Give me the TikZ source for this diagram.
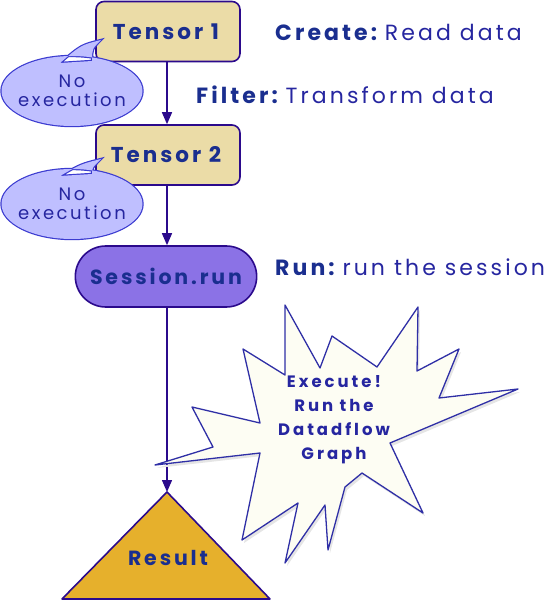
\documentclass[tikz,border=0pt]{standalone}
\usepackage{fontspec}
\setmainfont{Poppins}
\newfontfamily\boldsp[LetterSpace=14]{Poppins Bold}
\newfontfamily\boldburst[LetterSpace=18]{Poppins Bold}
\newfontfamily\regsp[LetterSpace=14]{Poppins}
\usetikzlibrary{arrows.meta,shapes.misc,shapes.geometric,calc}
\definecolor{edgec}{HTML}{2B0A8C}
\definecolor{txtc}{HTML}{1A2E8F}
\definecolor{bodyc}{HTML}{2626A0}
\definecolor{tanc}{HTML}{EBDCA7}
\definecolor{bubc}{HTML}{BFBFFF}
\definecolor{bubedge}{HTML}{3B3BD0}
\definecolor{sessc}{HTML}{8B72E6}
\definecolor{resc}{HTML}{E6B02C}
\definecolor{burstc}{HTML}{FDFDF3}
\tikzset{
  tensorbox/.style={draw=edgec, line width=1.6pt, fill=tanc, rounded corners=8pt,
    minimum width=144pt, minimum height=60pt, text=txtc, font=\boldsp\fontsize{21.5}{24}\selectfont},
  sessbox/.style={draw=edgec, line width=1.6pt, fill=sessc, rounded rectangle,
    minimum width=188pt, minimum height=61pt, text=txtc, font=\boldsp\fontsize{20.5}{24}\selectfont},
  bubtext/.style={ellipse, minimum width=141pt, minimum height=70pt, inner sep=0pt,
    align=center, text=bodyc, font=\regsp\fontsize{18}{22}\selectfont},
  sidelabel/.style={anchor=west, inner sep=0pt, font=\fontsize{22}{24}\selectfont},
  flow/.style={draw=edgec, line width=1.4pt, -{Triangle[length=12pt,width=10pt]}},
}
\begin{document}
\begin{tikzpicture}[x=1pt,y=-1pt]
\useasboundingbox (0,0) rectangle (553,601);
% tensor boxes and session
\node[tensorbox] (t1) at (168,31.5) {\hspace*{-4pt}Tensor 1};
\node[tensorbox] (t2) at (168,155) {\hspace*{-4pt}Tensor 2};
\node[sessbox] (sess) at (166,276.5) {Session.run};
% bubbles
\coordinate (b1) at (72,91);
\coordinate (b2) at (72,204);
\coordinate (tip1) at (101,40);
\coordinate (tip2) at (101,159);
\foreach \b/\t in {b1/tip1,b2/tip2}{
  \draw[bubedge, line width=2.4pt]
    (\b) ellipse [x radius=70.5pt, y radius=35pt]
    ($(\b)+(-12,-28)$) .. controls ($(\t)+(-20,5)$) .. (\t) .. controls ($(\t)+(-9,9)$) .. ($(\b)+(20,-30)$) -- cycle;
  \fill[bubc]
    (\b) ellipse [x radius=70.5pt, y radius=35pt]
    ($(\b)+(-12,-28)$) .. controls ($(\t)+(-20,5)$) .. (\t) .. controls ($(\t)+(-9,9)$) .. ($(\b)+(20,-30)$) -- cycle;
}
\node[bubtext] (n1) at (b1) {No\\[-3pt]execution};
\node[bubtext] (n2) at (b2) {No\\[-3pt]execution};
% result triangle
\coordinate (rtop) at (167,492);
\draw[edgec, line width=1.6pt, fill=resc, line join=round] (rtop) -- (270,599) -- (62,599) -- cycle;
\node[text=txtc, font=\boldsp\fontsize{20.5}{24}\selectfont] (res) at (168,558) {Result};
% connectors
\draw[flow] (t1.south -| rtop) -- (t2.north -| rtop);
\draw[flow] (t2.south -| rtop) -- (sess.north -| rtop);
\draw[flow] (sess.south -| rtop) -- (rtop);
% starburst
\fill[black!10, xshift=2pt, yshift=-3pt]
 (285,305) -- (320,368) -- (332,336) -- (377,367) -- (418,307) -- (417,371) -- (459,349) -- (439,398) -- (518,389) -- (390,443) -- (423,513) -- (362,473) -- (345,487) -- (328,550) -- (325,505) -- (285,563) -- (298,503) -- (242,540) -- (260,453) -- (155,465) -- (213,447) -- (192,407) -- (260,423) -- (243,349) -- (285,375) -- cycle;
\draw[draw=bubedge!80!black, line width=1.3pt, fill=burstc, line join=round]
 (285,305) -- (320,368) -- (332,336) -- (377,367) -- (418,307) -- (417,371) -- (459,349) -- (439,398) -- (518,389) -- (390,443) -- (423,513) -- (362,473) -- (345,487) -- (328,550) -- (325,505) -- (285,563) -- (298,503) -- (242,540) -- (260,453) -- (155,465) -- (213,447) -- (192,407) -- (260,423) -- (243,349) -- (285,375) -- cycle;
\node[align=center, text=bodyc, font=\boldburst\fontsize{16.5}{24}\selectfont] (burst) at (334,420) {Execute!\\Run the\\Datadflow\\Graph};
% side labels
\node[sidelabel] (l1) at (275,32) {{\boldsp\color{txtc}Create:} {\regsp\color{bodyc}Read data}};
\node[sidelabel] (l2) at (196,95) {{\boldsp\color{txtc}Filter:} {\regsp\color{bodyc}Transform data}};
\node[sidelabel] (l3) at (275,267) {{\boldsp\color{txtc}Run:} {\regsp\color{bodyc}run the session}};
\end{tikzpicture}
\end{document}
